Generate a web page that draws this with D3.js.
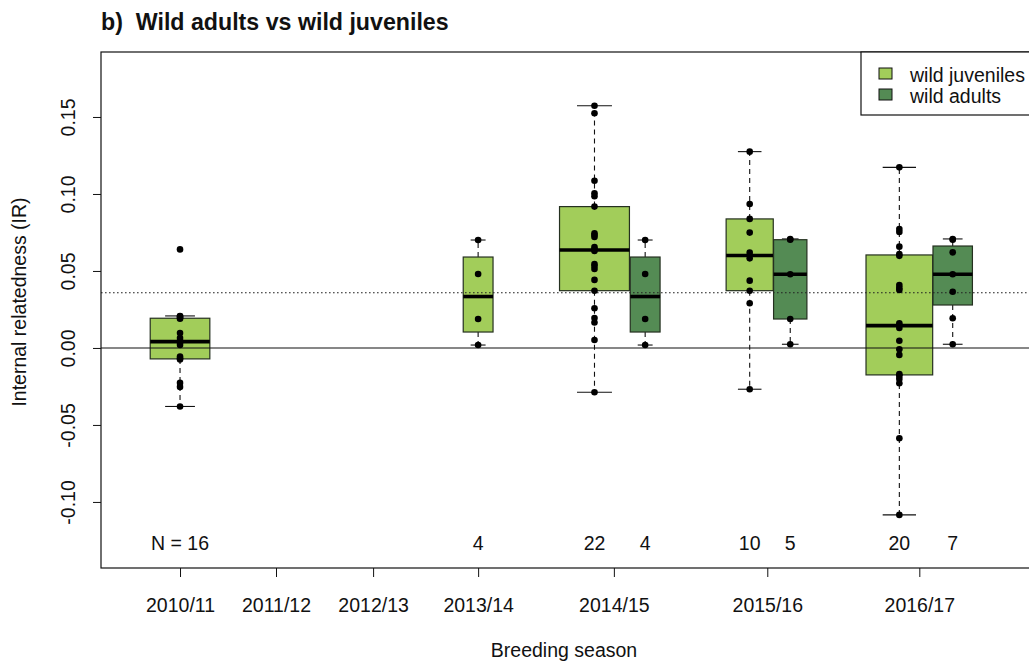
<!DOCTYPE html>
<html>
<head>
<meta charset="utf-8">
<script src="https://cdn.jsdelivr.net/npm/d3@7"></script>
<style>
  body { margin: 0; background: #fff; }
  svg { display: block; }
  text { font-family: "Liberation Sans", Arial, sans-serif; fill: #111; }
</style>
</head>
<body>
<svg id="chart" width="1029" height="665"></svg>
<script>
// Breeding seasons on the x axis and where their ticks sit (box-slot units)
const seasons  = ["2010/11", "2011/12", "2012/13", "2013/14", "2014/15", "2015/16", "2016/17"];
const seasonAt = [1.000, 1.966, 2.943, 4.000, 5.366, 6.910, 8.440];

// One box per group: its season, its cohort and its slot on the x axis
const groupSeason = ["2010/11", "2013/14", "2014/15", "2014/15", "2015/16", "2015/16", "2016/17", "2016/17"];
const groupCohort = ["juv", "juv", "juv", "adult", "juv", "adult", "juv", "adult"];
const groupAt     = [1.000, 4.000, 5.171, 5.681, 6.733, 7.141, 8.239, 8.776];

// Internal relatedness (IR) of each individual
const juv2010 = [-0.038, -0.0253, -0.0227, -0.0075, -0.0067, -0.0056, 0.002, 0.0035,
                 0.0047, 0.0065, 0.0097, 0.019, 0.0196, 0.0205, 0.0208, 0.064];
const juv2013 = [0.0019, 0.0188, 0.048, 0.0701];
const juv2014 = [-0.0288, 0.0052, 0.0165, 0.0195, 0.0258, 0.0372, 0.0442, 0.0513, 0.0532, 0.0545, 0.0630,
                 0.0643, 0.0656, 0.0721, 0.0734, 0.0744, 0.0918, 0.0985, 0.1005, 0.1086, 0.1524, 0.1573];
const adu2014 = [0.0019, 0.0188, 0.048, 0.0701];
const juv2015 = [-0.0268, 0.029, 0.0372, 0.0437, 0.0582, 0.0619, 0.0749, 0.0838, 0.0935, 0.1275];
const adu2015 = [0.0024, 0.0188, 0.0479, 0.0703, 0.0708];
const juv2016 = [-0.1084, -0.0586, -0.0229, -0.0201, -0.0180, -0.0170, -0.0045, -0.0008, 0.0047, 0.0130,
                 0.0160, 0.0377, 0.0390, 0.0409, 0.0598, 0.0610, 0.0658, 0.0753, 0.0773, 0.1173];
const adu2016 = [0.0024, 0.0193, 0.0365, 0.0479, 0.0621, 0.0703, 0.0708];
const groupValues = [juv2010, juv2013, juv2014, adu2014, juv2015, adu2015, juv2016, adu2016];

// Overall mean IR, drawn as the dotted reference line
const overallMean = 0.0359;

const yTicks = [-0.10, -0.05, 0.00, 0.05, 0.10, 0.15];
const cohortLabel = { juv: "wild juveniles", adult: "wild adults" };
const cohortFill  = { juv: "#A2CD5A", adult: "#548B54" };
const legendOrder = ["juv", "adult"];

// ---- layout ----
const svg = d3.select("#chart");
const plot = { left: 101, top: 52, right: 1032, bottom: 568 };
const fontSize = 19.5;

const x = d3.scaleLinear().domain([0.2047, 9.574]).range([plot.left, plot.right]);
const y = d3.scaleLinear().domain([-0.1429, 0.1922]).range([plot.bottom, plot.top]);

const boxUnitsPerSqrtN = 0.15;

// Tukey five-number summary, as used for box hinges
function fivenum(a) {
  const s = [...a].sort((p, q) => p - q);
  const n = s.length;
  const n4 = Math.floor((n + 3) / 2) / 2;
  const d = [1, n4, (n + 1) / 2, n + 1 - n4, n];
  return d.map(k => 0.5 * (s[Math.floor(k) - 1] + s[Math.ceil(k) - 1]));
}

function boxStats(vals) {
  const f = fivenum(vals);
  const iqr = f[3] - f[1];
  const lo = d3.min(vals.filter(v => v >= f[1] - 1.5 * iqr));
  const hi = d3.max(vals.filter(v => v <= f[3] + 1.5 * iqr));
  return { q1: f[1], med: f[2], q3: f[3], lo, hi };
}

// Title
svg.append("text")
  .attr("x", 101).attr("y", 30)
  .attr("font-size", 23.2).attr("font-weight", "bold")
  .style("white-space", "pre")
  .text("b)  Wild adults vs wild juveniles");

// Axes
const yAxis = d3.axisLeft(y).tickValues(yTicks).tickSize(8)
  .tickFormat(v => { const s = v.toFixed(2); return s === "-0.00" ? "0.00" : s; });
const yG = svg.append("g").attr("transform", `translate(${plot.left},0)`).call(yAxis);
yG.select(".domain").remove();
yG.selectAll(".tick line").attr("stroke", "#111");
yG.selectAll(".tick text")
  .attr("font-size", fontSize).attr("fill", "#111")
  .attr("x", null).attr("dy", null)
  .attr("text-anchor", "middle")
  .attr("transform", "translate(-26,0) rotate(-90)");

const xAxis = d3.axisBottom(x).tickValues(seasonAt).tickSize(9)
  .tickFormat((d, i) => seasons[i]);
const xG = svg.append("g").attr("transform", `translate(0,${plot.bottom})`).call(xAxis);
xG.select(".domain").remove();
xG.selectAll(".tick line").attr("stroke", "#111");
xG.selectAll(".tick text").attr("font-size", fontSize).attr("fill", "#111")
  .attr("y", 44).attr("dy", null);

// Axis titles
svg.append("text")
  .attr("x", 564).attr("y", 657)
  .attr("text-anchor", "middle").attr("font-size", fontSize)
  .text("Breeding season");
svg.append("text")
  .attr("transform", `translate(26,${(plot.top + plot.bottom) / 2 - 8}) rotate(-90)`)
  .attr("text-anchor", "middle").attr("font-size", fontSize)
  .text("Internal relatedness (IR)");

// Boxes
const groups = groupValues.map((vals, i) => ({
  vals, at: groupAt[i], cohort: groupCohort[i], season: groupSeason[i],
  n: vals.length, ...boxStats(vals)
}));

const gBoxes = svg.append("g");
groups.forEach(g => {
  const halfW = (x(boxUnitsPerSqrtN * Math.sqrt(g.n)) - x(0)) / 2;
  const cx = x(g.at);
  const b = gBoxes.append("g");
  // dashed whiskers
  b.append("line").attr("x1", cx).attr("x2", cx).attr("y1", y(g.q3)).attr("y2", y(g.hi))
    .attr("stroke", "#111").attr("stroke-width", 1.1).attr("stroke-dasharray", "5,4");
  b.append("line").attr("x1", cx).attr("x2", cx).attr("y1", y(g.q1)).attr("y2", y(g.lo))
    .attr("stroke", "#111").attr("stroke-width", 1.1).attr("stroke-dasharray", "5,4");
  // staples
  [g.hi, g.lo].forEach(v => {
    b.append("line").attr("x1", cx - halfW / 2).attr("x2", cx + halfW / 2)
      .attr("y1", y(v)).attr("y2", y(v)).attr("stroke", "#111").attr("stroke-width", 1.1);
  });
  // box
  b.append("rect").attr("x", cx - halfW).attr("width", 2 * halfW)
    .attr("y", y(g.q3)).attr("height", y(g.q1) - y(g.q3))
    .attr("fill", cohortFill[g.cohort]).attr("stroke", "#253020").attr("stroke-width", 1.2);
  // median
  b.append("line").attr("x1", cx - halfW).attr("x2", cx + halfW)
    .attr("y1", y(g.med)).attr("y2", y(g.med))
    .attr("stroke", "#000").attr("stroke-width", 3.6);
});

// Reference lines: zero and overall mean
svg.append("line").attr("x1", plot.left).attr("x2", plot.right)
  .attr("y1", y(0)).attr("y2", y(0)).attr("stroke", "#111").attr("stroke-width", 1.1);
svg.append("line").attr("x1", plot.left).attr("x2", plot.right)
  .attr("y1", y(overallMean)).attr("y2", y(overallMean))
  .attr("stroke", "#222").attr("stroke-width", 1.1).attr("stroke-dasharray", "1.6,2.4");

// Individual points
const gPts = svg.append("g");
groups.forEach(g => {
  gPts.selectAll(null).data(g.vals).enter().append("circle")
    .attr("cx", x(g.at)).attr("cy", v => y(v)).attr("r", 3.3).attr("fill", "#000");
});

// Sample sizes
groups.forEach((g, i) => {
  svg.append("text").attr("x", x(g.at)).attr("y", 550)
    .attr("text-anchor", "middle").attr("font-size", fontSize)
    .text(i === 0 ? `N = ${g.n}` : `${g.n}`);
});

// Plot frame
svg.append("rect").attr("x", plot.left).attr("y", plot.top)
  .attr("width", plot.right - plot.left).attr("height", plot.bottom - plot.top)
  .attr("fill", "none").attr("stroke", "#111").attr("stroke-width", 1.2);

// Legend
const lg = svg.append("g");
lg.append("rect").attr("x", 861).attr("y", plot.top).attr("width", plot.right - 861).attr("height", 63)
  .attr("fill", "#fff").attr("stroke", "#111").attr("stroke-width", 1.2);
legendOrder.forEach((c, i) => {
  lg.append("rect").attr("x", 879).attr("y", 68 + i * 21).attr("width", 13).attr("height", 11)
    .attr("fill", cohortFill[c]).attr("stroke", "#111").attr("stroke-width", 1);
  lg.append("text").attr("x", 910).attr("y", 82 + i * 21).attr("font-size", fontSize)
    .text(cohortLabel[c]);
});
</script>
</body>
</html>
